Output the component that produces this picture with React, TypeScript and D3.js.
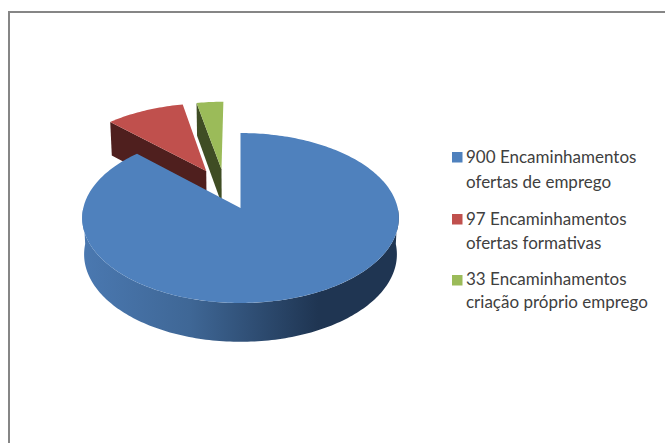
import React from "react";
import * as d3 from "d3";

// values and legend text
const values = [900, 97, 33];
const firstLines = ["900 Encaminhamentos", "97 Encaminhamentos", "33 Encaminhamentos"];
const secondLines = ["ofertas de emprego", "ofertas formativas", "criação próprio emprego"];
const topColors = ["#4f81bd", "#c0504d", "#9bbb59"];
const wallColors = ["#1f3552", "#4f1f1e", "#3f4d24"];

const width = 665;
const height = 443;

// the pie is drawn on a unit disc and pushed through a small perspective
const originX = 240.5;
const originY = 208;
const persp = 0.1176;
const radiusX = 157.2;
const radiusY = 83.8;

// how far each slice is pulled out of the pie, in disc units
const explodeU = [0, -0.23, -0.128];
const explodeV = [0, -0.466, -0.49];

function project(u: number, v: number, bottom = false): [number, number] {
  const d = 1 - persp * v;
  if (bottom) {
    return [originX + (radiusX * 0.988 * u) / d, originY + 36 + (radiusY * 1.03 * v) / d];
  }
  return [originX + (radiusX * u) / d, originY + (radiusY * v) / d];
}

const pieGen = d3.pie<number>().sort(null).startAngle(0).endAngle(2 * Math.PI);
const pathGen = d3.line();

function discPoint(i: number, a: number, bottom = false) {
  return project(explodeU[i] + Math.sin(a), explodeV[i] - Math.cos(a), bottom);
}

function arcPoints(i: number, a0: number, a1: number, bottom = false) {
  const n = Math.max(2, Math.ceil(Math.abs(a1 - a0) / 0.02));
  return d3.range(n + 1).map((k) => discPoint(i, a0 + ((a1 - a0) * k) / n, bottom));
}

export default function App() {
  const slices = pieGen(values);

  const tops = slices.map((s, i) => {
    const apex = project(explodeU[i], explodeV[i]);
    return pathGen([apex, ...arcPoints(i, s.startAngle, s.endAngle)]) + "Z";
  });

  // left cut face of the two small slices (they run back from the apex)
  const cutWalls = slices.map((s, i) => {
    const apex = project(explodeU[i], explodeV[i]);
    const apexLow = project(explodeU[i], explodeV[i], true);
    const rim = discPoint(i, s.startAngle);
    const rimLow = discPoint(i, s.startAngle, true);
    return pathGen([apex, rim, rimLow, apexLow]) + "Z";
  });

  // outer wall of the big slice, only the part that faces us
  const blue = slices[0];
  const wallStart = Math.PI / 2;
  const wallEnd = Math.min(blue.endAngle, (3 * Math.PI) / 2);
  const outerWall =
    pathGen([
      ...arcPoints(0, wallStart, wallEnd),
      ...arcPoints(0, wallEnd, wallStart, true),
    ]) + "Z";

  return (
    <svg
      width={width}
      height={height}
      style={{ position: "absolute", left: 0, top: 0, background: "#fff" }}
      fontFamily="Lato, 'Open Sans', sans-serif"
    >
      <defs>
        <linearGradient id="blueWall" gradientUnits="userSpaceOnUse" x1={84} x2={318} y1={0} y2={0}>
          <stop offset="0" stopColor="#4a78b0" />
          <stop offset="0.45" stopColor="#3f6796" />
          <stop offset="1" stopColor="#1f3552" />
        </linearGradient>
      </defs>

      <path d={`M9,${height}V12H${width}`} fill="none" stroke="#868686" strokeWidth={2} />

      <path d={cutWalls[2]} fill={wallColors[2]} />
      <path d={tops[2]} fill={topColors[2]} />
      <path d={cutWalls[1]} fill={wallColors[1]} />
      <path d={tops[1]} fill={topColors[1]} />
      <path d={outerWall} fill="url(#blueWall)" />
      <path d={tops[0]} fill={topColors[0]} />

      {values.map((_, i) => {
        const swatchY = [152, 214, 275][i];
        const y1 = [163, 225, 285][i];
        const y2 = [188, 249, 308][i];
        return (
          <g key={i} fontSize={17} fill="#404040">
            <rect x={452} y={swatchY} width={10.5} height={10.5} fill={topColors[i]} />
            <text x={466} y={y1}>{firstLines[i]}</text>
            <text x={466} y={y2}>{secondLines[i]}</text>
          </g>
        );
      })}
    </svg>
  );
}
